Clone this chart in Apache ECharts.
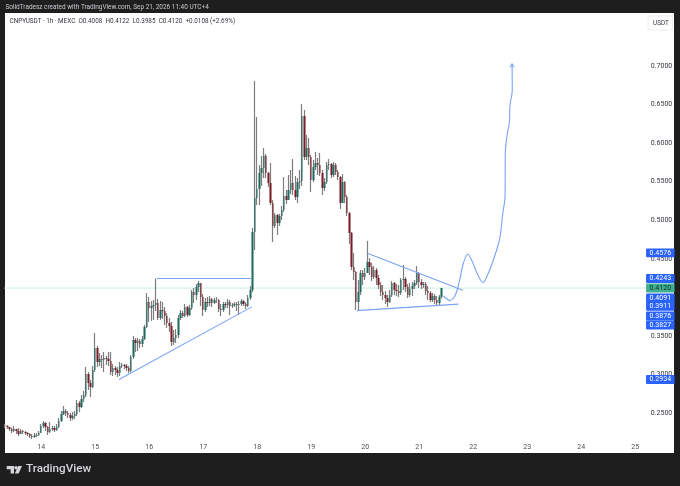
<!DOCTYPE html>
<html><head><meta charset="utf-8">
<style>html,body{margin:0;padding:0;background:#1e1e1e}#c{width:680px;height:486px;filter:blur(0.35px)}</style>
<script src="https://cdn.jsdelivr.net/npm/echarts@6/dist/echarts.min.js"></script>
</head><body><div id="c"></div>
<script>
const dayTicks=['14','15','16','17','18','19','20','21','22','23','24','25'];
const priceTicksShown=[0.25,0.30,0.35,0.40,0.45,0.50,0.55,0.60,0.65,0.70];
const closes=[
.2331,.2318,.2292,.2266,.2292,.2266,.2227,.2266,.2253,.2240,
.2227,.2201,.2188,.2208,.2214,.2240,.2331,.2370,.2318,.2253,
.2292,.2305,.2279,.2318,.2396,.2486,.2525,.2499,.2473,.2434,
.2460,.2486,.2629,.2577,.2681,.2733,.3005,.2888,.2837,.3057,
.3342,.3161,.3200,.3187,.3213,.3200,.3174,.3031,.3083,.3057,
.3018,.3109,.3122,.3109,.3083,.3044,.3226,.3446,.3407,.3433,
.3394,.3459,.3615,.3939,.3861,.3887,.3900,.3926,.3731,.3835,
.3822,.3757,.3667,.3628,.3420,.3472,.3511,.3731,.3796,.3757,
.3874,.3770,.3861,.4069,.4030,.4134,.4185,.4004,.3835,.3939,
.3926,.3978,.3926,.3965,.3965,.3848,.3835,.3913,.3900,.3939,
.3887,.3900,.3913,.3900,.3913,.3952,.3913,.3887,.3991,.4095,
.4847,.5288,.5405,.5612,.5677,.5833,.5612,.5483,.5223,.4925,
.5067,.4964,.5054,.5132,.5314,.5262,.5392,.5483,.5392,.5301,
.5495,.5508,.6352,.5820,.5936,.5820,.5521,.5690,.5742,.5716,
.5612,.5418,.5495,.5716,.5729,.5586,.5716,.5625,.5560,.5223,
.5495,.5301,.5093,.4834,.4393,.4328,.3939,.4069,.4315,.4263,
.4315,.4458,.4393,.4263,.4354,.4250,.4159,.4069,.4030,.3991,
.3939,.4030,.4185,.4095,.4082,.4056,.4224,.4237,.4134,.4030,
.4108,.4147,.4185,.4315,.4198,.4159,.4172,.4082,.4056,.3965,
.4017,.3965,.3926,.4008,.4120];
const highs=[
.2357,.2344,.2318,.2305,.2331,.2292,.2305,.2292,.2279,.2266,
.2253,.2240,.2227,.2240,.2240,.2266,.2357,.2396,.2383,.2331,
.2383,.2331,.2331,.2357,.2434,.2525,.2590,.2551,.2525,.2499,
.2512,.2525,.2668,.2655,.2733,.2785,.3096,.3031,.2927,.3109,
.3537,.3368,.3278,.3252,.3291,.3239,.3291,.3291,.3135,.3109,
.3096,.3161,.3148,.3135,.3135,.3109,.3252,.3498,.3472,.3472,
.3459,.3498,.3641,.4056,.4004,.3952,.3965,.4243,.3978,.3952,
.3939,.3874,.3796,.3731,.3680,.3576,.3589,.3770,.3835,.3822,
.3913,.3887,.3900,.4095,.4121,.4172,.4211,.4185,.4043,.3991,
.4004,.4017,.3991,.3991,.4004,.3978,.3913,.3939,.3939,.3978,
.3965,.3926,.3939,.3939,.3952,.3978,.3965,.3939,.4030,.4147,
.4899,.6805,.6338,.5716,.5833,.5936,.5859,.5625,.5742,.5262,
.5093,.5080,.5080,.5184,.5560,.5392,.5586,.5651,.5794,.5573,
.5547,.5651,.6507,.6429,.6105,.6066,.5846,.5781,.5885,.5807,
.5872,.5651,.5547,.5755,.5794,.5742,.5755,.5742,.5651,.5573,
.5599,.5508,.5327,.5106,.4847,.4575,.4341,.4224,.4354,.4354,
.4380,.4730,.4510,.4445,.4406,.4380,.4289,.4198,.4159,.4082,
.4030,.4095,.4211,.4198,.4172,.4159,.4250,.4419,.4263,.4172,
.4185,.4198,.4224,.4406,.4328,.4237,.4198,.4198,.4147,.4082,
.4056,.4043,.4017,.4030,.4122];
const lows=[
.2305,.2292,.2266,.2240,.2253,.2227,.2201,.2227,.2227,.2214,
.2201,.2175,.2162,.2175,.2188,.2201,.2240,.2305,.2266,.2214,
.2240,.2266,.2253,.2266,.2305,.2383,.2473,.2460,.2434,.2396,
.2409,.2421,.2460,.2512,.2564,.2642,.2707,.2798,.2707,.2824,
.3031,.3096,.3109,.3083,.3031,.3122,.3109,.2992,.2979,.2992,
.2966,.2979,.3083,.3070,.3044,.3018,.3031,.3200,.3291,.3303,
.3342,.3355,.3446,.3602,.3680,.3693,.3706,.3822,.3706,.3706,
.3719,.3641,.3602,.3550,.3368,.3381,.3407,.3472,.3706,.3731,
.3744,.3744,.3757,.3835,.3926,.3965,.4069,.3887,.3757,.3809,
.3874,.3887,.3874,.3913,.3926,.3809,.3757,.3809,.3861,.3861,
.3770,.3861,.3874,.3822,.3770,.3887,.3887,.3848,.3874,.3965,
.4069,.4613,.5197,.5197,.5444,.5547,.5547,.5431,.5197,.4717,
.4899,.4808,.4925,.5003,.5106,.5210,.5288,.5340,.5327,.5262,
.5223,.5405,.5444,.5781,.5781,.5716,.5366,.5495,.5651,.5586,
.5573,.5327,.5379,.5470,.5651,.5547,.5560,.5586,.5521,.5145,
.5262,.5223,.5054,.4691,.4354,.4224,.3835,.3822,.4030,.4159,
.4224,.4315,.4289,.4211,.4237,.4159,.4108,.4017,.3965,.3913,
.3874,.3926,.4004,.4030,.4017,.4004,.4030,.4095,.4069,.3991,
.4004,.4017,.4108,.4159,.4121,.4108,.4121,.4030,.3965,.3939,
.3939,.3913,.3887,.3900,.3985];
const firstOpen=.2340;
const lastPrice=.4120;
// drawn lines: hour index on the time scale, price
const riseLineHours=[50.6,109.6], riseLinePrices=[.2934,.3876];
const flatLineHours=[67.4,109.6], flatLinePrices=[.4243,.4243];
const fallLineHours=[160.7,203.4], fallLinePrices=[.4576,.4091];
const baseLineHours=[156.3,201.4], baseLinePrices=[.3827,.3911];
const lastLineHours=[-0.4,284.5], lastLinePrices=[lastPrice,lastPrice];
const pathHours=[194.8,196.4,197.7,199.3,200.8,202.2,203.7,205.6,207.5,209.7,212.4,214.2,217,219.1,220,221.2,222.2,222.3,223.1,224.1,224.4,225.4,225.3];
const pathPrices=[.4017,.3978,.3956,.3991,.4082,.4250,.4445,.4558,.4471,.4315,.4192,.4276,.4484,.4678,.4786,.5093,.5305,.5868,.6105,.6261,.6494,.6689,.7030];
const arrowHours=[224.5,225.3,226.1], arrowPrices=[.6985,.7030,.6985];
// price tags: value shown, and level where the stacked tag sits
const tagValues=[.4576,.4243,.4120,.4091,.3911,.3876,.3827,.2934];
const tagLevels=[.4576,.4243,.4120,.3991,.3882,.3757,.3641,.2934];

const TOTAL=285, FIRST_DAY=16;
const categories=[];
for(let i=0;i<TOTAL;i++){const k=(i-FIRST_DAY)/24;categories.push(Number.isInteger(k)&&k>=0?dayTicks[k]:'');}
const opens=closes.map((c,i)=>i?closes[i-1]:firstOpen);
const ohlc=closes.map((c,i)=>[opens[i],c,lows[i],highs[i]]);
const zipLine=(h,p)=>h.map((x,i)=>[x,p[i]]);
const BLUE='#7aa2f7';
const lineSeries=(h,p,extra)=>Object.assign({type:'line',xAxisIndex:1,yAxisIndex:0,data:zipLine(h,p),symbol:'none',silent:true,z:6,lineStyle:{color:BLUE,width:1.1}},extra||{});
const FONT='Roboto, sans-serif';
const tagLabel=(bg,fg)=>({show:true,position:'right',distance:0.8,padding:[1,3.5,0.9,3.5],lineHeight:7,
  fontSize:7,fontFamily:FONT,color:fg,backgroundColor:bg,borderRadius:1,opacity:1});
const chart=echarts.init(document.getElementById('c'),null,{renderer:'canvas'});
chart.setOption({
 animation:false,backgroundColor:'#1e1e1e',
 grid:{left:4,top:27.45,width:641.25,height:424.05,containLabel:false},
 xAxis:[
  {type:'category',data:categories,boundaryGap:true,axisTick:{show:false},axisLine:{show:false},splitLine:{show:false},
   axisLabel:{inside:true,margin:0.5,interval:(i,v)=>v!=='',color:'#4a4d55',fontSize:7,fontFamily:FONT,hideOverlap:false}},
  {type:'value',min:-0.5,max:284.5,show:false,splitLine:{show:false}}
 ],
 yAxis:[{type:'value',position:'right',min:0.2,max:0.75,interval:0.05,scale:false,axisLine:{show:false},axisTick:{show:false},splitLine:{show:false},
  axisLabel:{margin:5.5,color:'#33363e',fontSize:7,fontFamily:FONT,formatter:v=>priceTicksShown.some(t=>Math.abs(t-v)<1e-6)?v.toFixed(4):''}}],
 series:[
  lineSeries(lastLineHours,lastLinePrices,{z:1,lineStyle:{type:'dotted',color:'#9fdcca',width:1}}),
  {type:'candlestick',name:'wicks',data:ohlc,barWidth:1,silent:true,z:3,
   itemStyle:{color:'#7d7d7d',color0:'#7d7d7d',borderColor:'#7d7d7d',borderColor0:'#7d7d7d',borderWidth:1.2}},
  {type:'candlestick',name:'bodies',data:ohlc,barWidth:2,silent:true,z:4,
   itemStyle:{color:'#1f6b60',color0:'#7b1a29',borderColor:'#1f6b60',borderColor0:'#7b1a29',borderWidth:0}},
  lineSeries(riseLineHours,riseLinePrices),
  lineSeries(flatLineHours,flatLinePrices),
  lineSeries(fallLineHours,fallLinePrices),
  lineSeries(baseLineHours,baseLinePrices),
  lineSeries(pathHours,pathPrices,{smooth:0.35}),
  lineSeries(arrowHours,arrowPrices),
  {type:'scatter',xAxisIndex:1,yAxisIndex:0,silent:true,z:10,symbolSize:0.01,
   data:tagLevels.map((y,i)=>({value:[284.5,y],tag:tagValues[i]})).filter(d=>d.tag!==lastPrice),
   label:Object.assign(tagLabel('#2962ff','#ffffff'),{formatter:p=>p.data.tag.toFixed(4)}),
   itemStyle:{color:'transparent',opacity:1}},
  {type:'scatter',xAxisIndex:1,yAxisIndex:0,silent:true,z:11,symbolSize:0.01,
   data:[[284.5,lastPrice]],
   label:Object.assign(tagLabel('#3fb08f','#0d2a22'),{formatter:lastPrice.toFixed(4)}),
   itemStyle:{color:'transparent',opacity:1}}
 ],
 graphic:[
  {type:'rect',z:-100,silent:true,shape:{x:5,y:13,width:669,height:440},style:{fill:'#ffffff'}},
  {type:'rect',z:-99,silent:true,shape:{x:648,y:16,width:24.5,height:14,r:2},style:{fill:'#ffffff',stroke:'#eeeeee',lineWidth:1}},
  {type:'text',z:20,silent:true,x:653,y:20.3,style:{text:'USDT',font:'6.4px '+FONT,fill:'#33363e'}},
  {type:'text',z:20,silent:true,x:5.5,y:4.8,style:{text:'SolidTradesz created with TradingView.com, Sep 21, 2026 11:40 UTC+4',font:'6.45px '+FONT,fill:'#c9ccd4'}},
  {type:'text',z:20,silent:true,x:9.5,y:18.2,style:{text:'CNPYUSDT · 1h · MEXC  O0.4008  H0.4122  L0.3985  C0.4120  +0.0108 (+2.69%)',font:'6.35px '+FONT,fill:'#33363e'}},
  {type:'polygon',z:20,silent:true,shape:{points:[[6.7,466],[14,466],[14,473.4],[10.6,473.4],[10.6,469.2],[6.7,469.2]]},style:{fill:'#d4d6dc'}},
  {type:'circle',z:20,silent:true,shape:{cx:16,cy:467.7,r:1.7},style:{fill:'#d4d6dc'}},
  {type:'polygon',z:20,silent:true,shape:{points:[[18.2,466],[22,466],[18.6,473.4],[14.8,473.4]]},style:{fill:'#d4d6dc'}},
  {type:'text',z:20,silent:true,x:26,y:463.5,style:{text:'TradingView',font:'500 11.7px '+FONT,fill:'#d4d6dc'}}
 ]
});
</script></body></html>
